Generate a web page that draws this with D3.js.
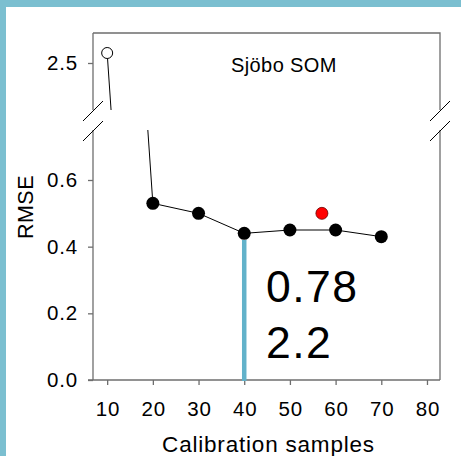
<!DOCTYPE html>
<html>
<head>
<meta charset="utf-8">
<script src="https://cdn.jsdelivr.net/npm/d3@7"></script>
<style>
  html, body { margin: 0; padding: 0; background: #fff; }
  svg { display: block; }
  text { font-family: "Liberation Sans", Arial, sans-serif; fill: #000; }
</style>
</head>
<body>
<script>
// RMSE against the number of calibration samples (Sjöbo SOM)
const samples = [10, 20, 30, 40, 50, 60, 70];
const rmse = [2.53, 0.53, 0.50, 0.44, 0.45, 0.45, 0.43];
const extraSamples = [57];
const extraRmse = [0.50];
const xTicks = [10, 20, 30, 40, 50, 60, 70, 80];
const yTicksLow = [0.0, 0.2, 0.4, 0.6];
const yTicksHigh = [2.5];
const markerSample = 40;
const markerRmse = 0.42;
const noteLines = ["0.78", "2.2"];

const W = 461, H = 456;
const left = 93, right = 440;
const topHigh = 33, bottomHigh = 110;   // upper panel of the broken axis
const topLow = 130, bottomLow = 380;    // lower panel
const frameColor = "#6e6e6e";

const svg = d3.select("body").append("svg").attr("width", W).attr("height", H);

// page frame strips
svg.append("rect").attr("x", 0).attr("y", 0).attr("width", W).attr("height", 7).attr("fill", "#7bbfd0");
svg.append("rect").attr("x", 0).attr("y", 0).attr("width", 6).attr("height", H).attr("fill", "#7bbfd0");

const x = d3.scaleLinear().domain([6.9, 82.85]).range([left, right]);
const yLow = d3.scaleLinear().domain([0, 0.75]).range([bottomLow, topLow]);
const yHigh = d3.scaleLinear().domain([2.359, 2.59]).range([bottomHigh, topHigh]);

const defs = svg.append("defs");
defs.append("clipPath").attr("id", "clipHigh").append("rect")
  .attr("x", left).attr("y", topHigh).attr("width", right - left).attr("height", bottomHigh - topHigh);
defs.append("clipPath").attr("id", "clipLow").append("rect")
  .attr("x", left).attr("y", topLow).attr("width", right - left).attr("height", bottomLow - topLow);

const pts = samples.map((s, i) => ({s, v: rmse[i]}));

// connecting line, drawn once per panel and clipped to it
svg.append("path")
  .attr("clip-path", "url(#clipHigh)")
  .attr("d", d3.line().x(d => x(d.s)).y(d => yHigh(d.v))(pts))
  .attr("fill", "none").attr("stroke", "#000").attr("stroke-width", 1);
svg.append("path")
  .attr("clip-path", "url(#clipLow)")
  .attr("d", d3.line().x(d => x(d.s)).y(d => yLow(d.v))(pts))
  .attr("fill", "none").attr("stroke", "#000").attr("stroke-width", 1);

// axes
const xAxis = d3.axisBottom(x).tickValues(xTicks).tickSize(5).tickPadding(16).tickFormat(d3.format("d"));
const gx = svg.append("g").attr("transform", `translate(0,${bottomLow})`).call(xAxis);
gx.select(".domain").attr("d", `M${left - 5},0H${right}`);

const yAxisLow = d3.axisLeft(yLow).tickValues(yTicksLow).tickSize(5).tickPadding(10).tickFormat(d3.format(".1f"));
const gyl = svg.append("g").attr("transform", `translate(${left},0)`).call(yAxisLow);
gyl.select(".domain").attr("d", `M0,${bottomLow}V${topLow}`);

const yAxisHigh = d3.axisLeft(yHigh).tickValues(yTicksHigh).tickSize(5).tickPadding(10).tickFormat(d3.format(".1f"));
const gyh = svg.append("g").attr("transform", `translate(${left},0)`).call(yAxisHigh);
gyh.select(".domain").attr("d", `M0,${bottomHigh}V${topHigh}`);

[gx, gyl, gyh].forEach(g => {
  g.selectAll(".domain, .tick line").attr("stroke", frameColor).attr("stroke-width", 1.3);
  g.selectAll(".tick text").style("font-size", "20.5px").style("letter-spacing", "0.8px").attr("fill", "#000");
});
// keep x labels centred despite the trailing letter spacing
gx.selectAll(".tick text").attr("dx", "0.4px");

// top and right frame
svg.append("path")
  .attr("d", `M${left},${topHigh}H${right}V${bottomHigh}M${right},${topLow}V${bottomLow}`)
  .attr("fill", "none").attr("stroke", frameColor).attr("stroke-width", 1.3);

// break marks on both vertical edges
[left, right].forEach(ax => {
  [bottomHigh + 1, topLow + 1].forEach(yb => {
    svg.append("line")
      .attr("x1", ax - 10).attr("y1", yb + 10)
      .attr("x2", ax + 10).attr("y2", yb - 10)
      .attr("stroke", "#000").attr("stroke-width", 1);
  });
});

// vertical marker at the chosen sample size
svg.append("line")
  .attr("x1", x(markerSample)).attr("x2", x(markerSample))
  .attr("y1", yLow(0) + 1).attr("y2", yLow(markerRmse))
  .attr("stroke", "#62b2ca").attr("stroke-width", 4.5);

// points
svg.append("circle")
  .attr("cx", x(pts[0].s)).attr("cy", yHigh(pts[0].v)).attr("r", 5.5)
  .attr("fill", "#fff").attr("stroke", "#000").attr("stroke-width", 1);
svg.selectAll(".pt").data(pts.slice(1)).join("circle")
  .attr("class", "pt")
  .attr("cx", d => x(d.s)).attr("cy", d => yLow(d.v)).attr("r", 6.5)
  .attr("fill", "#000");
svg.selectAll(".extra").data(extraSamples.map((s, i) => ({s, v: extraRmse[i]}))).join("circle")
  .attr("class", "extra")
  .attr("cx", d => x(d.s)).attr("cy", d => yLow(d.v)).attr("r", 6)
  .attr("fill", "#ff0000").attr("stroke", "#600").attr("stroke-width", 0.8);

// panel label
svg.append("text").attr("x", 231).attr("y", 71.5)
  .style("font-size", "20px").style("letter-spacing", "0.4px").text("Sjöbo SOM");

// large annotation
noteLines.forEach((t, i) => {
  svg.append("text").attr("x", 266).attr("y", 302 + i * 56)
    .style("font-size", "44.5px").style("letter-spacing", "1.5px").text(t);
});

// axis titles
svg.append("text").attr("x", (left + right) / 2 + 2).attr("y", 452)
  .attr("text-anchor", "middle").style("font-size", "22.5px").style("letter-spacing", "0.8px")
  .text("Calibration samples");
svg.append("text").attr("transform", "translate(33,207) rotate(-90)")
  .attr("text-anchor", "middle").style("font-size", "21.5px").style("letter-spacing", "0.5px")
  .text("RMSE");
</script>
</body>
</html>
